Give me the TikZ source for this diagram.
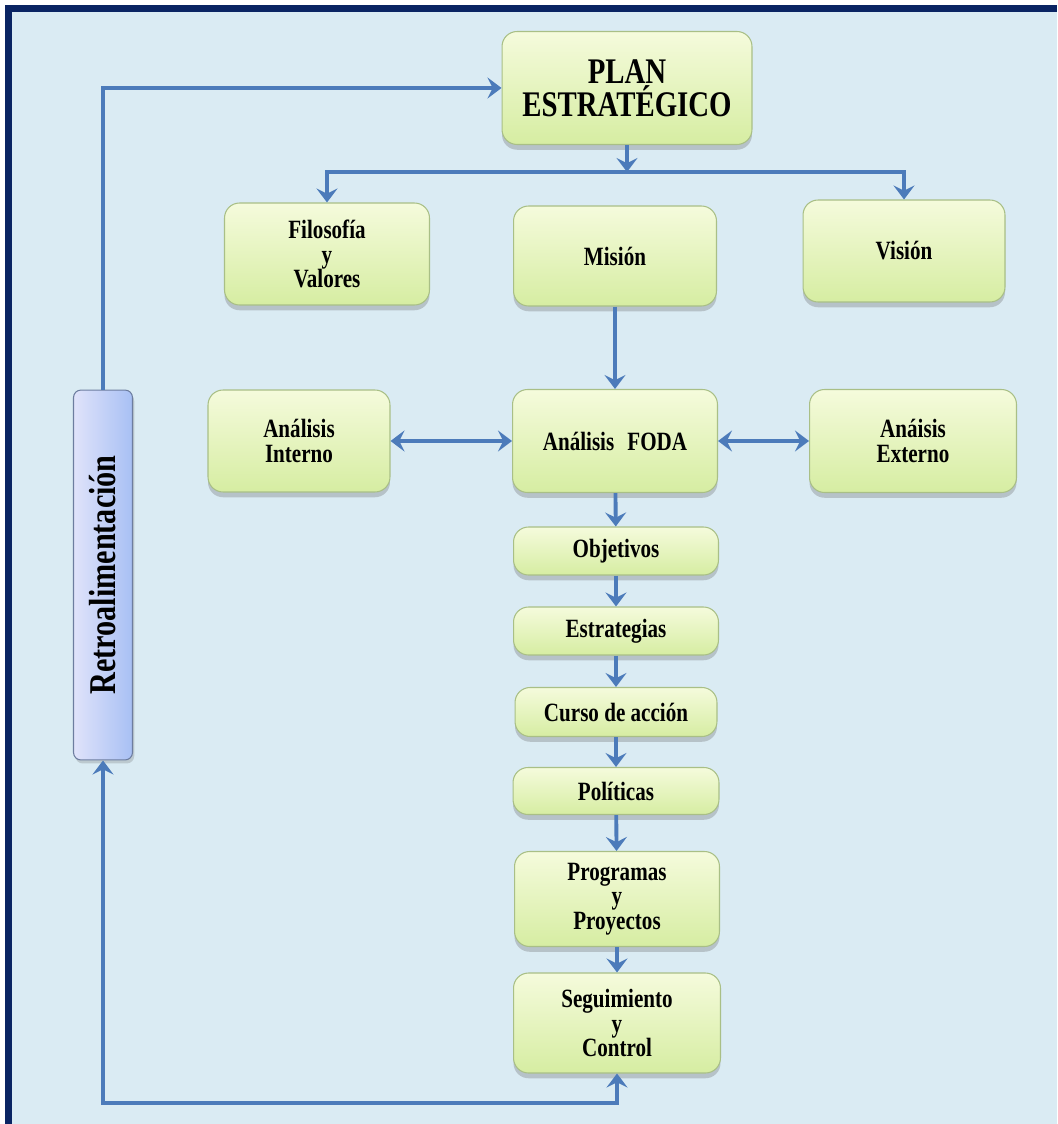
\documentclass[tikz,border=0pt]{standalone}
\usepackage{fontspec}
\setmainfont{Liberation Serif}[FakeStretch=0.8]
\usetikzlibrary{arrows.meta,shadows}

\definecolor{frameblue}{HTML}{0A2463}
\definecolor{bgblue}{HTML}{DAEBF3}
\definecolor{boxtop}{HTML}{F5FBDC}
\definecolor{boxbot}{HTML}{D6EDA2}
\definecolor{boxline}{HTML}{A9BF86}
\definecolor{arrowblue}{HTML}{4C7BBA}
\definecolor{retroleft}{HTML}{E0E3FA}
\definecolor{retroright}{HTML}{A8C0F4}

\begin{document}
\begin{tikzpicture}[
        x=0.02cm, y=-0.02cm,
        >={Stealth[length=8pt,width=12pt,inset=3pt]},
        box/.style={
            draw=boxline, line width=0.6pt, rounded corners=0.3cm,
            top color=boxtop, bottom color=boxbot,
            drop shadow={shadow xshift=0pt,shadow yshift=-3pt,opacity=0.3,fill=black!60},
            align=center, inner sep=2pt,
            font=\bfseries\fontsize{15}{14}\selectfont
        },
        flow/.style={->, draw=arrowblue, line width=2.2pt},
        both/.style={<->, draw=arrowblue, line width=2.2pt}
    ]

\useasboundingbox (0,0) rectangle (1057,1124);
\fill[white] (0,0) rectangle (1057,1124);
\fill[frameblue] (5,5) rectangle (1057,1124);
\fill[bgblue] (12,12) rectangle (1057,1124);

% top of the plan
\node[box, minimum width=5cm, minimum height=2.26cm,
      font=\bfseries\fontsize{20.5}{16.5}\selectfont] (plan) at (627,88) {PLAN\\ESTRATÉGICO};

\node[box, minimum width=4.1cm, minimum height=2.04cm] (filo) at (327,254) {Filosofía\\y\\Valores};
\node[box, minimum width=4.06cm, minimum height=2cm] (mision) at (615,256) {Misión};
\node[box, minimum width=4.04cm, minimum height=2.04cm] (vision) at (904,251) {Visión};

\node[box, minimum width=3.64cm, minimum height=2.04cm] (interno) at (299,441) {Análisis\\Interno};
\node[box, minimum width=4.1cm, minimum height=2.06cm] (foda) at (615,441) {Análisis\enspace FODA};
\node[box, minimum width=4.14cm, minimum height=2.06cm] (externo) at (913,441) {Anáisis\\Externo};

% the chain
\node[box, minimum width=4.1cm, minimum height=0.96cm] (obj) at (616,551) {Objetivos};
\node[box, minimum width=4.1cm, minimum height=0.96cm] (estr) at (616,631) {Estrategias};
\node[box, minimum width=4.04cm, minimum height=0.98cm] (curso) at (616,712) {Curso de acción};
\node[box, minimum width=4.12cm, minimum height=0.94cm] (pol) at (616,791) {Políticas};
\node[box, minimum width=4.1cm, minimum height=1.9cm] (prog) at (617,899) {Programas\\y\\Proyectos};
\node[box, minimum width=4.14cm, minimum height=2cm] (seg) at (617,1023) {Seguimiento\\y\\Control};

\node[draw=black!35!retroright, line width=0.6pt, rounded corners=0.15cm,
      left color=retroleft, right color=retroright,
      drop shadow={shadow xshift=1pt,shadow yshift=-2pt,opacity=0.25,fill=black!60},
      minimum width=1.18cm, minimum height=7.4cm] (retro) at (103,575)
      {\rotatebox{90}{\bfseries\fontsize{21.5}{21.5}\selectfont Retroalimentación}};

\coordinate (bar) at (627,172);
\coordinate (fb) at (103,1103);

\draw[flow] (plan) -- (bar);
\draw[draw=arrowblue, line width=2.2pt] (filo.north |- bar) -- (vision.north |- bar);
\draw[flow] (bar) -| (filo.north);
\draw[flow] (bar) -| (vision.north);

\draw[flow] (mision) -- (foda);
\draw[both] (interno) -- (foda);
\draw[both] (foda) -- (externo);

\draw[flow] (foda) -- (obj);
\draw[flow] (obj) -- (estr);
\draw[flow] (estr) -- (curso);
\draw[flow] (curso) -- (pol);
\draw[flow] (pol) -- (prog);
\draw[flow] (prog) -- (seg);

\draw[both] (retro.south) -- (fb) -| (seg.south);
\draw[flow] (retro.north) |- (plan.west);

\end{tikzpicture}
\end{document}
